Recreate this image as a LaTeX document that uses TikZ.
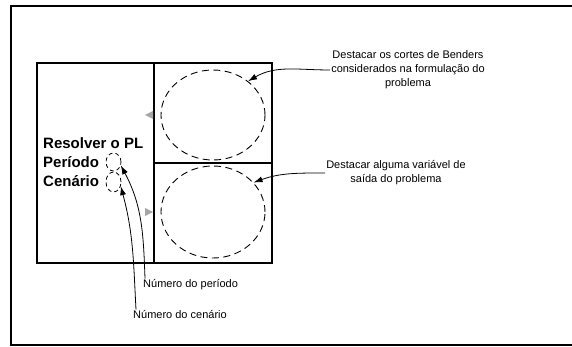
\documentclass[tikz,border=0pt]{standalone}
\usepackage{fontspec}
\setmainfont{Liberation Sans}
\usetikzlibrary{arrows.meta,shapes.geometric}

\begin{document}
\begin{tikzpicture}[x=1pt, y=-1pt,
		caixa/.style={line width=1.4pt},
		destaque/.style={shape=ellipse, draw, dashed, dash pattern=on 7pt off 4.5pt, line width=.9pt, inner sep=0pt},
		marca/.style={shape=ellipse, draw, dashed, dash pattern=on 4pt off 3pt, line width=.8pt, inner sep=0pt},
		legenda/.style={font=\fontsize{11}{14}\selectfont, inner sep=1pt},
		titulo/.style={font=\bfseries\fontsize{15}{19}\selectfont, inner sep=0pt, anchor=base west},
		seta/.style={-{Latex[length=9pt,width=6pt]}, line width=.8pt}]
			\useasboundingbox (0,0) rectangle (572,347);
			\clip (0,0) rectangle (572,347);
			% moldura
			\draw [line width=2pt] (580,6) -- (11,6) -- (11,345) -- (580,345);
			% caixas
			\coordinate (no) at (37,63);
			\coordinate (se) at (272,263);
			\draw [caixa] (no) rectangle (se);
			\draw [caixa] (154,63) -- (154,263);
			\draw [caixa] (154,163) -- (272,163);
			\fill [gray!70] (145,115) -- (153,111) -- (153,119) -- cycle;
			\fill [gray!70] (153,212) -- (145,208) -- (145,216) -- cycle;
			% elipses
			\node (cortes) at (213,115) [destaque, minimum width=104pt, minimum height=90pt] {};
			\node (saida) at (213,212) [destaque, minimum width=104pt, minimum height=92pt] {};
			% texto da caixa
			\node (resolver) at (43,148.5) [titulo] {Resolver o PL};
			\node (periodo) at (43,167.5) [titulo] {Período};
			\node (cenario) at (43,187) [titulo] {Cenário};
			\node (numper) at (113.5,162) [marca, minimum width=15pt, minimum height=18pt] {};
			\node (numcen) at (113.5,182) [marca, minimum width=15pt, minimum height=20pt] {};
			% legendas
			\node (txtcortes) at (408,70) [legenda, align=center] {Destacar os cortes de Benders\\considerados na formulação do\\problema};
			\node (txtsaida) at (396,173) [legenda, align=center] {Destacar alguma variável de\\saída do problema};
			\node (txtper) at (142,285) [legenda, anchor=west] {Número do período};
			\node (txtcen) at (132,315) [legenda, anchor=west] {Número do cenário};
			\draw [seta] (txtcortes.west) to [out=180, in=30] (cortes.44);
			\draw [seta] (txtsaida.west) to [out=180, in=20] (saida.36);
			\draw [seta] ([xshift=3pt]txtper.north west) to [out=92, in=-62] (numper.-25);
			\draw [seta] ([xshift=4pt]txtcen.north west) to [out=93, in=-75] (numcen.-30);
		\end{tikzpicture}
\end{document}
